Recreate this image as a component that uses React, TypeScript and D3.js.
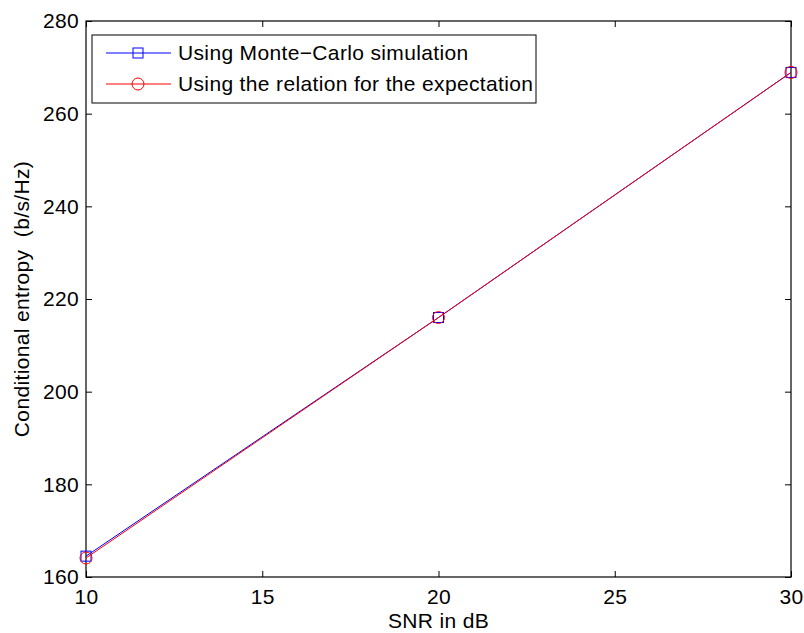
import React, { useEffect, useRef } from 'react';
import * as d3 from 'd3';

const snr = [10, 20, 30];
const monteCarlo = [164.5, 216.0, 268.9];
const relation = [164.1, 216.0, 268.9];
const xTicks = [10, 15, 20, 25, 30];
const yTicks = [160, 180, 200, 220, 240, 260, 280];
const legendLabels = ['Using Monte\u2212Carlo simulation', 'Using the relation for the expectation'];

const FONT = '"Liberation Sans", Arial, Helvetica, sans-serif';
const FS = '21px';
const LS = '0.35px';

export default function App() {
  const svgRef = useRef<SVGSVGElement | null>(null);

  useEffect(() => {
    if (!svgRef.current) return;
    const W = 804, H = 633;
    const margin = { top: 21, right: 13, bottom: 56, left: 86 };
    const width = W - margin.left - margin.right;
    const height = H - margin.top - margin.bottom;

    const root = d3.select(svgRef.current);
    root.selectAll('*').remove();
    root.attr('width', W).attr('height', H);
    root.append('rect').attr('width', W).attr('height', H).attr('fill', '#fff');

    const g = root.append('g').attr('transform', `translate(${margin.left},${margin.top})`);

    const x = d3.scaleLinear().domain([10, 30]).range([0, width]);
    const y = d3.scaleLinear().domain([160, 280]).range([height, 0]);

    // inward ticks on all four sides, matlab style
    const tl = 6;
    const bottom = g.append('g').attr('transform', `translate(0,${height})`)
      .call(d3.axisBottom(x).tickValues(xTicks).tickSizeInner(-tl).tickSizeOuter(0).tickPadding(12));
    const top = g.append('g').call(d3.axisTop(x).tickValues(xTicks).tickSizeInner(-tl).tickSizeOuter(0).tickFormat(() => ''));
    const left = g.append('g')
      .call(d3.axisLeft(y).tickValues(yTicks).tickSizeInner(-tl).tickSizeOuter(0).tickPadding(7));
    const right = g.append('g').attr('transform', `translate(${width},0)`)
      .call(d3.axisRight(y).tickValues(yTicks).tickSizeInner(-tl).tickSizeOuter(0).tickFormat(() => ''));

    [bottom, top, left, right].forEach(a => {
      a.select('.domain').remove();
      a.selectAll('line').attr('stroke', '#000').attr('stroke-width', 1);
      a.selectAll('text').attr('fill', '#000').style('font-family', FONT)
        .style('font-size', FS).style('letter-spacing', LS);
    });

    g.append('rect').attr('width', width).attr('height', height)
      .attr('fill', 'none').attr('stroke', '#000').attr('stroke-width', 1.2);

    const line = d3.line<number>().x((_, i) => x(snr[i])).y(d => y(d));

    // series
    g.append('path').datum(monteCarlo).attr('d', line).attr('fill', 'none')
      .attr('stroke', '#0000ff').attr('stroke-width', 1);
    g.selectAll('.sq').data(monteCarlo).enter().append('rect')
      .attr('x', (_, i) => x(snr[i]) - 5).attr('y', d => y(d) - 5)
      .attr('width', 10).attr('height', 10)
      .attr('fill', 'none').attr('stroke', '#0000ff').attr('stroke-width', 1);

    g.append('path').datum(relation).attr('d', line).attr('fill', 'none')
      .attr('stroke', '#ff0000').attr('stroke-width', 1);
    g.selectAll('.ci').data(relation).enter().append('circle')
      .attr('cx', (_, i) => x(snr[i])).attr('cy', d => y(d)).attr('r', 6)
      .attr('fill', 'none').attr('stroke', '#ff0000').attr('stroke-width', 1);

    // legend
    const lg = root.append('g').attr('transform', 'translate(92,35)');
    lg.append('rect').attr('width', 444).attr('height', 68)
      .attr('fill', '#fff').attr('stroke', '#000').attr('stroke-width', 1);
    const colors = ['#0000ff', '#ff0000'];
    legendLabels.forEach((lab, i) => {
      const cy = 18 + i * 31;
      lg.append('line').attr('x1', 14).attr('x2', 79).attr('y1', cy).attr('y2', cy)
        .attr('stroke', colors[i]).attr('stroke-width', 1);
      if (i === 0) {
        lg.append('rect').attr('x', 41).attr('y', cy - 5).attr('width', 10).attr('height', 10)
          .attr('fill', 'none').attr('stroke', colors[i]);
      } else {
        lg.append('circle').attr('cx', 46).attr('cy', cy).attr('r', 6)
          .attr('fill', 'none').attr('stroke', colors[i]);
      }
      lg.append('text').attr('x', 86).attr('y', cy).attr('dy', '0.35em')
        .style('font-family', FONT).style('font-size', FS).style('letter-spacing', LS)
        .attr('fill', '#000').text(lab);
    });

    // axis titles
    root.append('text').attr('x', margin.left + width / 2).attr('y', 628)
      .attr('text-anchor', 'middle').style('font-family', FONT).style('font-size', FS)
      .style('letter-spacing', LS).text('SNR in dB');
    root.append('text')
      .attr('transform', `translate(29,${margin.top + height / 2}) rotate(-90)`)
      .attr('text-anchor', 'middle').style('font-family', FONT).style('font-size', FS)
      .style('letter-spacing', LS).style('white-space', 'pre')
      .text('Conditional entropy  (b/s/Hz)');
  }, []);

  return (
    <svg ref={svgRef} style={{ position: 'absolute', left: 0, top: 0, display: 'block' }} />
  );
}
